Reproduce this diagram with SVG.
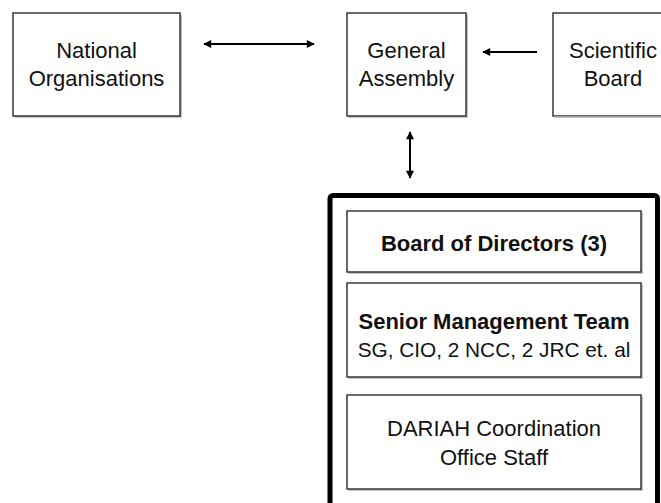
<svg xmlns="http://www.w3.org/2000/svg" width="661" height="503" viewBox="0 0 661 503">
<style>
.box{fill:#fff;stroke:#2a2a2a;stroke-width:1.4}
.sh{fill:none;stroke:#b0b0b0;stroke-width:1.5}
.t{font-family:"Liberation Sans",Arial,sans-serif;font-size:22px;fill:#111;text-anchor:middle}
.b{font-weight:bold}
.c{fill:none;stroke:#000;stroke-width:2}
</style>
<defs>
<marker id="ah" viewBox="0 0 10 10" refX="9" refY="5" markerWidth="9" markerHeight="8" markerUnits="userSpaceOnUse" orient="auto-start-reverse">
<path d="M0,0 L10,5 L0,10 Z" fill="#000"/>
</marker>
</defs>
<rect width="661" height="503" fill="#fff"/>
<g id="national">
<path class="sh" d="M14.5,117 H181 V14.5"/>
<rect class="box" x="13" y="13" width="167" height="103"/>
<text class="t" x="96.5" y="58">National</text>
<text class="t" x="96.5" y="86">Organisations</text>
</g>
<g id="general">
<path class="sh" d="M348.5,117 H467 V14.5"/>
<rect class="box" x="347" y="13" width="119" height="103"/>
<text class="t" x="406.5" y="58">General</text>
<text class="t" x="406.5" y="86">Assembly</text>
</g>
<g id="scientific">
<rect class="box" x="553" y="13" width="119" height="103"/>
<path class="sh" d="M554.5,117 H672"/>
<text class="t" x="613" y="58">Scientific</text>
<text class="t" x="613" y="86">Board</text>
</g>
<g id="container">
<rect x="330" y="195.5" width="327.5" height="330" rx="3" fill="#fff" stroke="#000" stroke-width="5"/>
</g>
<g id="board">
<path class="sh" d="M348.5,273 H642 V212.5"/>
<rect class="box" x="347" y="211" width="294" height="61"/>
<text class="t b" x="494" y="251">Board of Directors (3)</text>
</g>
<g id="smt">
<path class="sh" d="M348.5,378 H642 V284.5"/>
<rect class="box" x="347" y="283" width="294" height="94"/>
<text class="t b" x="494" y="329">Senior Management Team</text>
<text class="t" x="494" y="357" style="font-size:20.8px">SG, CIO, 2 NCC, 2 JRC et. al</text>
</g>
<g id="dariah">
<path class="sh" d="M348.5,490 H642 V396.5"/>
<rect class="box" x="347" y="395" width="294" height="94"/>
<text class="t" x="494" y="436">DARIAH Coordination</text>
<text class="t" x="494" y="465">Office Staff</text>
</g>
<g id="connectors">
<line class="c" x1="204" y1="44" x2="314" y2="44" marker-start="url(#ah)" marker-end="url(#ah)"/>
<line class="c" x1="537" y1="52" x2="483" y2="52" marker-end="url(#ah)"/>
<line class="c" x1="410" y1="132" x2="410" y2="178" marker-start="url(#ah)" marker-end="url(#ah)"/>
</g>
</svg>
